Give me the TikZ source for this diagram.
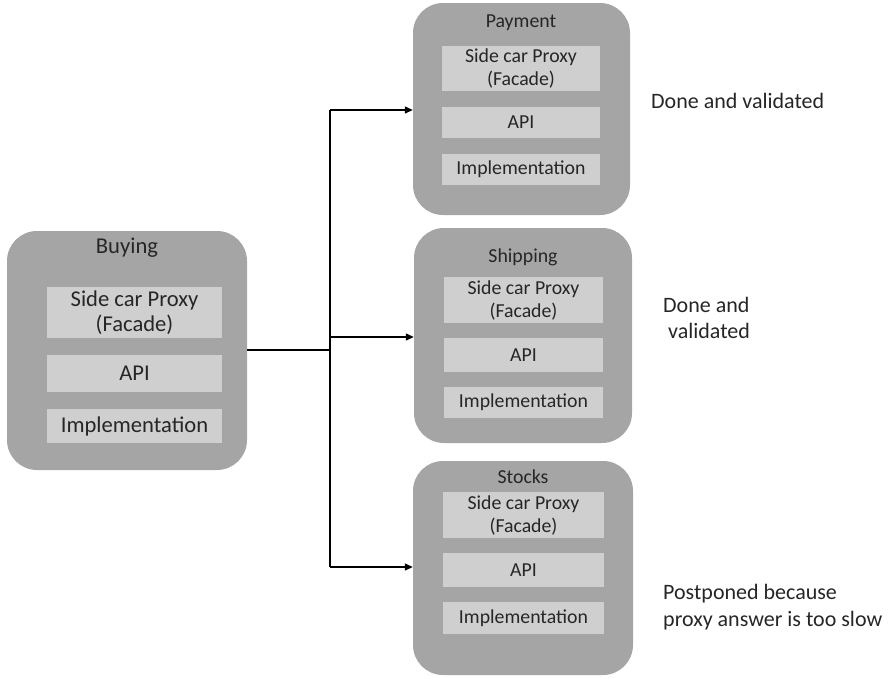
\documentclass[tikz,border=0pt]{standalone}
\usepackage{fontspec}
\setmainfont{Carlito}
\usetikzlibrary{arrows.meta}
\definecolor{svcgray}{HTML}{A5A5A5}
\definecolor{layergray}{HTML}{CFCFCF}
\definecolor{inkgray}{HTML}{262626}
\tikzset{
  svc/.style={draw=none, fill=svcgray, rounded corners=30pt, inner sep=0pt},
  layer/.style={draw=none, fill=layergray, inner sep=0pt, align=center, text=inkgray},
  bigtext/.style={font=\fontsize{22.6}{24.5}\selectfont},
  smalltext/.style={font=\fontsize{19.8}{23}\selectfont},
  notetext/.style={font=\fontsize{22}{26.5}\selectfont, text=inkgray, inner sep=0pt, anchor=west, align=left},
  title/.style={inner sep=0pt, text=inkgray},
  trunk/.style={draw=black, line width=2pt},
  branch/.style={draw=black, line width=1.3pt},
  tip/.style={-{Triangle[length=8pt,width=7pt]}}
}
\begin{document}
\begin{tikzpicture}[x=1pt, y=-1pt]
\useasboundingbox (0,0) rectangle (889,678);

% Buying service
\node[svc, minimum width=240pt, minimum height=239pt] (buy) at (127,350.5) {};
\node[title, bigtext] (buyT) at (127,248) {Buying};
\node[layer, bigtext, minimum width=175pt, minimum height=51pt] (buyP) at (134.5,312.5) {Side car Proxy\\(Facade)};
\node[layer, bigtext, minimum width=175pt, minimum height=37pt] (buyA) at (134.5,373.5) {API};
\node[layer, bigtext, minimum width=175pt, minimum height=34pt] (buyI) at (134.5,426) {Implementation};

% Payment service
\node[svc, minimum width=217pt, minimum height=212pt] (pay) at (521.5,109) {};
\node[title, smalltext] (payT) at (521,23) {Payment};
\node[layer, smalltext, minimum width=158pt, minimum height=45pt] (payP) at (521,68.5) {Side car Proxy\\(Facade)};
\node[layer, smalltext, minimum width=158pt, minimum height=31pt] (payA) at (521,122.5) {API};
\node[layer, smalltext, minimum width=158pt, minimum height=31pt] (payI) at (521,169.5) {Implementation};

% Shipping service
\node[svc, minimum width=218pt, minimum height=215pt] (ship) at (523,335.5) {};
\node[title, smalltext] (shipT) at (523,257) {Shipping};
\node[layer, smalltext, minimum width=159pt, minimum height=46pt] (shipP) at (523.5,300) {Side car Proxy\\(Facade)};
\node[layer, smalltext, minimum width=159pt, minimum height=34pt] (shipA) at (523.5,355) {API};
\node[layer, smalltext, minimum width=159pt, minimum height=31pt] (shipI) at (523.5,402.5) {Implementation};

% Stocks service
\node[svc, minimum width=220pt, minimum height=214pt] (stock) at (523,568) {};
\node[title, smalltext] (stockT) at (523,477) {Stocks};
\node[layer, smalltext, minimum width=161pt, minimum height=46pt] (stockP) at (523.5,515) {Side car Proxy\\(Facade)};
\node[layer, smalltext, minimum width=161pt, minimum height=34pt] (stockA) at (523.5,570) {API};
\node[layer, smalltext, minimum width=161pt, minimum height=32pt] (stockI) at (523.5,618) {Implementation};

% Status notes
\node[notetext] (payN) at (651,101) {Done and validated};
\node[notetext] (shipN) at (663,318) {Done and\\\ validated};
\node[notetext] (stockN) at (663,607) {Postponed because\\proxy answer is too slow};

% Fan-out connectors
\coordinate (hub) at (330,350);
\coordinate (hubTop) at (330,110);
\coordinate (hubMid) at (330,337);
\coordinate (hubBot) at (330,567);
\draw[trunk] (buy.east |- hub) -- (hub);
\draw[branch] (hubTop) -- (hubBot);
\draw[branch, tip] (hubTop) -- (hubTop -| pay.west);
\draw[branch, tip] (hubMid) -- (hubMid -| ship.west);
\draw[branch, tip] (hubBot) -- (hubBot -| stock.west);
\end{tikzpicture}
\end{document}
